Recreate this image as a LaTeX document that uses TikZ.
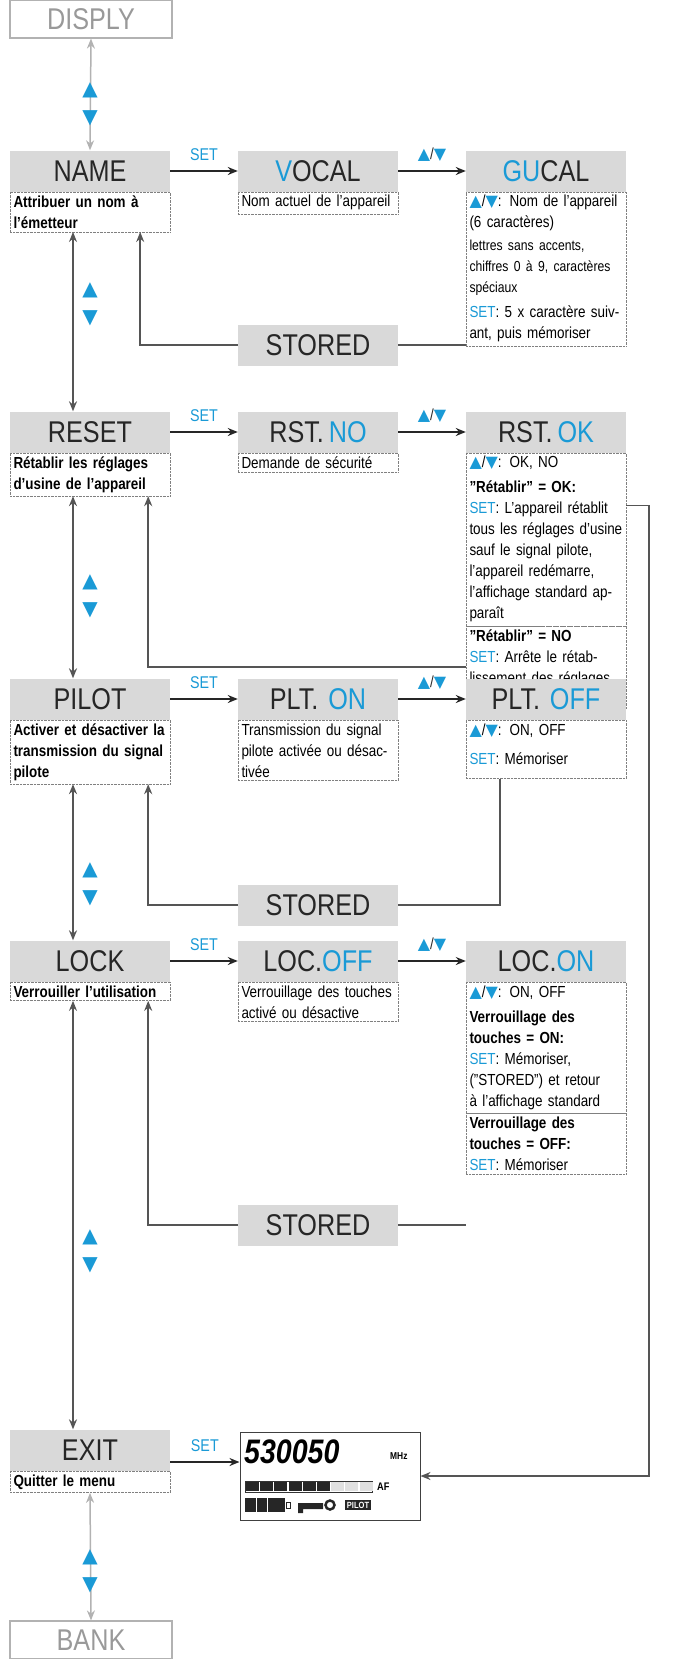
\documentclass[tikz,border=0pt]{standalone}
\usepackage{fontspec}
\setmainfont{Liberation Sans}[FakeStretch=0.84, WordSpace=0.7]
\newfontfamily\symfont{DejaVu Sans}
\usetikzlibrary{positioning,arrows.meta}
\definecolor{blu}{HTML}{1A9AD6}
\definecolor{hdgray}{HTML}{D9D9D9}
\definecolor{lngray}{HTML}{555555}
\newcommand{\bup}{{\symfont\color{blu}▲}}
\newcommand{\bdn}{{\symfont\color{blu}▼}}
\newcommand{\updn}{{\symfont\color{blu}▲}/{\symfont\color{blu}▼}}
\tikzset{
  head/.style={fill=hdgray, minimum width=160pt, minimum height=41pt, inner sep=0pt,
    font=\fontsize{30}{30}\selectfont, text=black!85},
  desc/.style={draw=gray, densely dotted, anchor=north, text width=153pt, inner sep=3.5pt,
    align=left, font=\fontsize{16}{21}\selectfont},
  outer/.style={draw=gray!60, line width=1.2pt, minimum width=162pt, minimum height=38pt,
    inner sep=0pt, font=\fontsize{30}{30}\selectfont, text=gray!80},
  go/.style={-{Stealth[length=10pt,width=8pt]}, line width=1.6pt, black!85},
  ret/.style={line width=1.5pt, lngray},
  vert/.style={{Stealth[length=10pt,width=8pt]}-{Stealth[length=10pt,width=8pt]}, line width=1.5pt, lngray},
  lbl/.style={font=\fontsize{17}{17}\selectfont, text=blu},
  tri/.style={font=\fontsize{20}{20}\selectfont, inner sep=0pt}
}
\begin{document}
\begin{tikzpicture}[x=1pt, y=-1pt]
\useasboundingbox (0,0) rectangle (696,1659);

% outer menu points
\node[outer] (disply) at (91,19) {DISPLY};
\node[outer] (bank) at (91,1640) {BANK};

% NAME
\node[head] (name) at (90,171) {NAME};
\node[desc, font=\bfseries\fontsize{16}{21}\selectfont] (name-d) at (name.south) {Attribuer un nom à l'émetteur};
\node[head] (vocal) at (318,171) {{\color{blu}V}OCAL};
\node[desc] (vocal-d) at (vocal.south) {Nom actuel de l'appareil};
\node[head] (gucal) at (546,171) {{\color{blu}GU}CAL};
\node[desc] (gucal-d) at (gucal.south) {\updn: Nom de l'appareil (6 caractères)\\[2pt]
  {\fontsize{14.5}{21}\selectfont lettres sans accents, chiffres 0 à 9, caractères spéciaux}\\[4pt]
  {\color{blu}SET}: 5 x caractère suivant, puis mémoriser};
\node[head] (stored1) at (318,345) {STORED};

% RESET
\node[head] (reset) at (90,432) {RESET};
\node[desc, font=\bfseries\fontsize{16}{21}\selectfont] (reset-d) at (reset.south) {Rétablir les réglages d'usine de l'appareil};
\node[head] (rstno) at (318,432) {RST. {\color{blu}NO}};
\node[desc] (rstno-d) at (rstno.south) {Demande de sécurité};
\node[head] (rstok) at (546,432) {RST. {\color{blu}OK}};
\node[desc] (okA) at (rstok.south) {\updn: OK, NO\\[4pt]
  \textbf{"Rétablir" = OK:}\\ {\color{blu}SET}: L'appareil rétablit tous les réglages d'usine sauf le signal pilote, l'appareil redémarre, l'affichage standard apparaît};
\node[desc] (okB) at (okA.south) {\textbf{"Rétablir" = NO}\\ {\color{blu}SET}: Arrête le rétablissement des réglages d'usine};

% PILOT
\node[head] (pilot) at (90,699) {PILOT};
\node[desc, font=\bfseries\fontsize{16}{21}\selectfont] (pilot-d) at (pilot.south) {Activer et désactiver la transmission du signal pilote};
\node[head] (plton) at (318,699) {PLT.\ \ {\color{blu}ON}};
\node[desc] (plton-d) at (plton.south) {Transmission du signal pilote activée ou désactivée};
\node[head] (pltoff) at (546,699) {PLT.\ \ {\color{blu}OFF}};
\node[desc, text depth=40pt] (pltoff-d) at (pltoff.south) {\updn: ON, OFF\\[8pt] {\color{blu}SET}: Mémoriser};
\node[head] (stored2) at (318,905) {STORED};

% LOCK
\node[head] (lock) at (90,961) {LOCK};
\node[desc, font=\bfseries\fontsize{16}{21}\selectfont] (lock-d) at (lock.south) {Verrouiller l'utilisation};
\node[head] (locoff) at (318,961) {LOC.{\color{blu}OFF}};
\node[desc] (locoff-d) at (locoff.south) {Verrouillage des touches activé ou désactive};
\node[head] (locon) at (546,961) {LOC.{\color{blu}ON}};
\node[desc] (onA) at (locon.south) {\updn: ON, OFF\\[4pt]
  \textbf{Verrouillage des touches = ON:}\\ {\color{blu}SET}: Mémoriser, ("STORED") et retour à l'affichage standard};
\node[desc] (onB) at (onA.south) {\textbf{Verrouillage des touches = OFF:}\\ {\color{blu}SET}: Mémoriser};
\node[head] (stored3) at (318,1225) {STORED};

% EXIT
\node[head] (exit) at (90,1450) {EXIT};
\node[desc, font=\bfseries\fontsize{16}{21}\selectfont] (exit-d) at (exit.south) {Quitter le menu};
\node[draw=black!75, line width=1pt, minimum width=180pt, minimum height=88pt] (lcd) at (330,1476) {};

% standard display
\node[anchor=west, font=\bfseries\itshape\fontsize{34}{34}\selectfont, inner sep=0pt] (freq) at (244,1452) {530050};
\node[anchor=west, font=\bfseries\fontsize{10}{10}\selectfont, inner sep=0pt] (mhz) at (390,1456) {MHz};
\draw[black!80] (245,1481) rectangle (372,1492);
\foreach \i in {0,...,5} \fill[black!85] (246+\i*14.2,1482) rectangle (259+\i*14.2,1491);
\foreach \i in {6,7,8} \fill[black!12] (246+\i*14.2,1482) rectangle (259+\i*14.2,1491);
\node[anchor=west, font=\bfseries\fontsize{11}{11}\selectfont, inner sep=0pt] (af) at (377,1487) {AF};
\fill[black!85] (245,1498) rectangle (285,1512);
\foreach \i in {256,267} \draw[white] (\i,1498) -- (\i,1512);
\draw[black!85] (286,1502) rectangle (290,1508);
\fill[black!85] (298,1503) rectangle (323,1509) (298,1503) rectangle (303,1513);
\draw[black!85, line width=2.5pt] (330,1505) circle (4.5pt);
\node[fill=black!85, text=white, font=\bfseries\fontsize{9}{9}\selectfont, inner sep=2pt] (pil) at (358,1505) {PILOT};

% horizontal steps
\draw[go] (name) -- (vocal) node[lbl, midway, above=6pt] {SET};
\draw[go] (vocal) -- (gucal) node[midway, above=5pt, font=\fontsize{16}{16}\selectfont] {\updn};
\draw[go] (reset) -- (rstno) node[lbl, midway, above=6pt] {SET};
\draw[go] (rstno) -- (rstok) node[midway, above=5pt, font=\fontsize{16}{16}\selectfont] {\updn};
\draw[go] (pilot) -- (plton) node[lbl, midway, above=6pt] {SET};
\draw[go] (plton) -- (pltoff) node[midway, above=5pt, font=\fontsize{16}{16}\selectfont] {\updn};
\draw[go] (lock) -- (locoff) node[lbl, midway, above=6pt] {SET};
\draw[go] (locoff) -- (locon) node[midway, above=5pt, font=\fontsize{16}{16}\selectfont] {\updn};
\draw[go] ([yshift=-12pt]exit.east) -- ([yshift=-12pt]lcd.west |- exit.east) node[lbl, midway, above=6pt] {SET};

% returns
\draw[ret] (gucal-d.west |- stored1) -- (stored1.east);
\draw[ret, -{Stealth[length=10pt,width=8pt]}] (stored1.west) -| ([xshift=-30pt]name-d.south east);
\draw[ret, -{Stealth[length=10pt,width=8pt]}] (okB.west) -| ([xshift=-22pt]reset-d.south east);
\draw[ret] ([xshift=34pt]pltoff-d.south west) |- (stored2.east);
\draw[ret, -{Stealth[length=10pt,width=8pt]}] (stored2.west) -| ([xshift=-22pt]pilot-d.south east);
\draw[ret] (onB.west |- stored3) -- (stored3.east);
\draw[ret, -{Stealth[length=10pt,width=8pt]}] (stored3.west) -| ([xshift=-22pt]lock-d.south east);
\draw[ret, -{Stealth[length=10pt,width=8pt]}] ([yshift=34pt]okA.east) -- ++(23,0) |- (lcd.east);

% vertical menu steps
\draw[vert, gray!60] (disply.south) -- (name.north);
\draw[vert] ([xshift=-17pt]name-d.south) -- ([xshift=-17pt]reset.north);
\draw[vert] ([xshift=-17pt]reset-d.south) -- ([xshift=-17pt]pilot.north);
\draw[vert] ([xshift=-17pt]pilot-d.south) -- ([xshift=-17pt]lock.north);
\draw[vert] ([xshift=-17pt]lock-d.south) -- ([xshift=-17pt]exit.north);
\draw[vert, gray!60] (exit-d.south) -- (bank.north);
\foreach \y in {90,290,582,870,1237,1557} {
  \node[tri] at (90,\y) {\bup};
  \node[tri] at (90,\y+28) {\bdn};
}
\end{tikzpicture}
\end{document}
